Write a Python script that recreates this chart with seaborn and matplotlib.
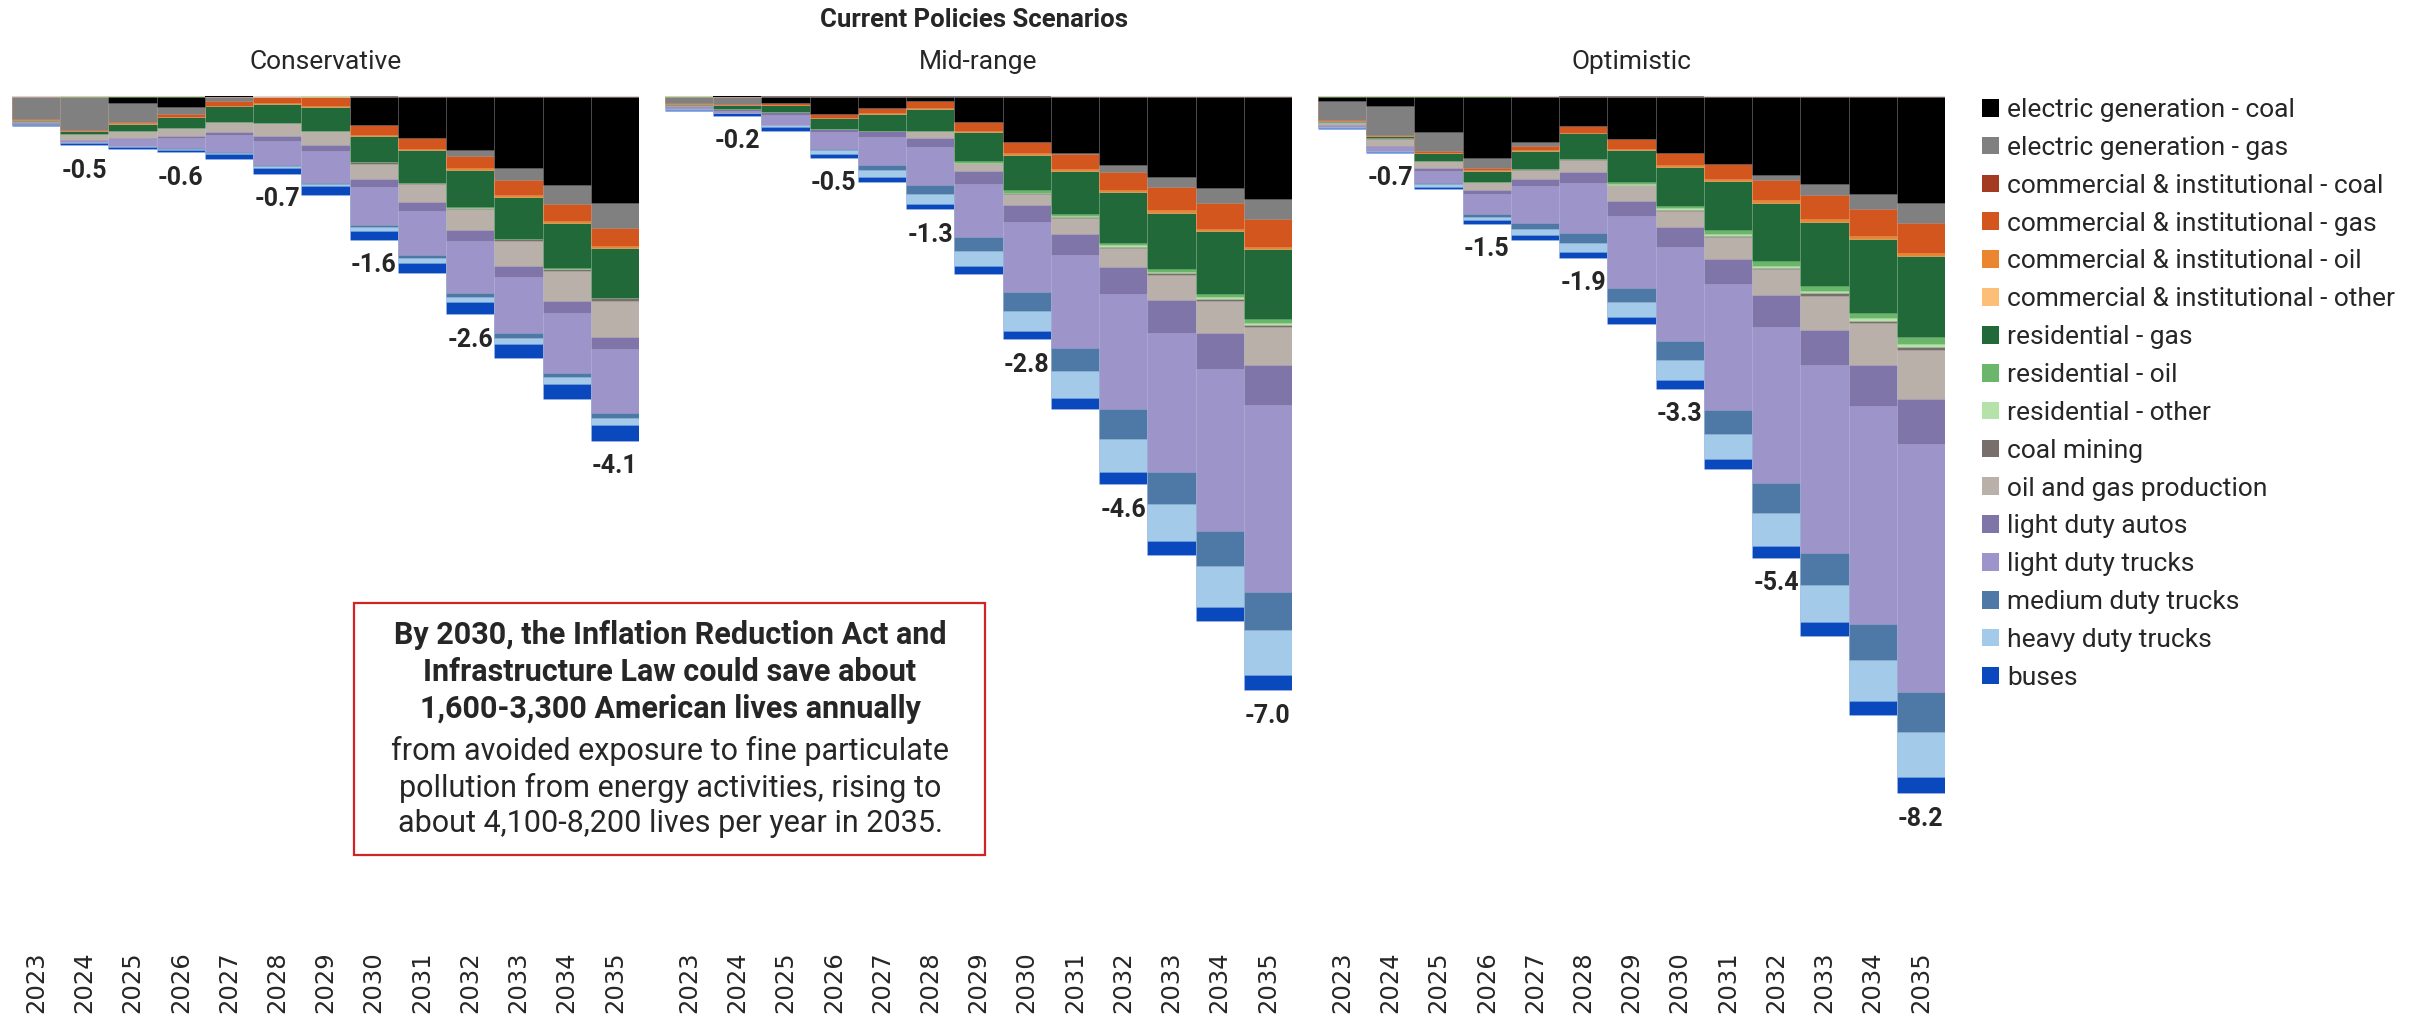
import numpy as np
import matplotlib
matplotlib.use("Agg")
import matplotlib.pyplot as plt
from matplotlib.patches import Patch, Rectangle
import seaborn as sns

sns.set_style("white")
plt.rcParams["font.family"] = ["Roboto", "DejaVu Sans"]

years = [2023, 2024, 2025, 2026, 2027, 2028, 2029, 2030, 2031, 2032, 2033, 2034, 2035]

categories = [
    "electric generation - coal", "electric generation - gas",
    "commercial & institutional - coal", "commercial & institutional - gas",
    "commercial & institutional - oil", "commercial & institutional - other",
    "residential - gas", "residential - oil", "residential - other",
    "coal mining", "oil and gas production", "light duty autos",
    "light duty trucks", "medium duty trucks", "heavy duty trucks", "buses",
]
colors = [
    "#000000", "#808080", "#a33a22", "#d4561f", "#ea8530", "#fdbe78",
    "#22693a", "#6ab66a", "#b4e2a8", "#786f6c", "#b9b0aa", "#8075a9",
    "#9d95ca", "#4e79a7", "#a3cbe9", "#0a48be",
]

# deaths avoided (thousands), negative = fewer deaths
conservative = {
    "electric generation - coal": [0, 0, -0.065, -0.11, 0.02, 0, 0, -0.33, -0.48, -0.62, -0.83, -1.03, -1.24],
    "electric generation - gas": [-0.25, -0.38, -0.22, -0.08, -0.04, 0, 0, 0.015, 0, -0.07, -0.14, -0.225, -0.30],
    "commercial & institutional - coal": [0, 0, 0, 0, 0, 0, 0, 0, 0, 0, 0, 0, 0],
    "commercial & institutional - gas": [-0.01, -0.01, -0.02, -0.035, -0.06, -0.07, -0.10, -0.11, -0.125, -0.14, -0.18, -0.20, -0.21],
    "commercial & institutional - oil": [0, 0, -0.005, -0.005, -0.005, -0.008, -0.012, -0.012, -0.02, -0.025, -0.028, -0.028, -0.032],
    "commercial & institutional - other": [0, 0, 0, 0, 0, 0, 0, 0, 0, 0, 0, 0, 0],
    "residential - gas": [-0.012, -0.04, -0.08, -0.13, -0.18, -0.22, -0.28, -0.31, -0.38, -0.44, -0.49, -0.53, -0.58],
    "residential - oil": [0, 0, 0, 0, 0, 0, 0, -0.005, -0.005, -0.005, -0.007, -0.007, -0.008],
    "residential - other": [0, 0.015, 0.015, 0.015, 0, 0, 0.012, 0, 0, 0, 0, 0, 0],
    "coal mining": [0, -0.005, 0, 0, 0, 0, 0, -0.015, -0.015, -0.02, -0.02, -0.028, -0.035],
    "oil and gas production": [-0.02, -0.065, -0.09, -0.09, -0.12, -0.16, -0.17, -0.18, -0.21, -0.25, -0.30, -0.36, -0.42],
    "light duty autos": [-0.01, -0.016, -0.012, -0.03, -0.04, -0.06, -0.075, -0.10, -0.105, -0.125, -0.13, -0.135, -0.14],
    "light duty trucks": [-0.015, -0.01, -0.075, -0.12, -0.20, -0.28, -0.37, -0.44, -0.52, -0.61, -0.66, -0.71, -0.76],
    "medium duty trucks": [-0.003, -0.005, -0.005, -0.005, -0.012, -0.016, -0.02, -0.03, -0.04, -0.05, -0.05, -0.05, -0.06],
    "heavy duty trucks": [-0.005, -0.01, -0.008, -0.012, -0.016, -0.016, -0.02, -0.04, -0.05, -0.06, -0.07, -0.08, -0.085],
    "buses": [-0.015, -0.025, -0.024, -0.032, -0.055, -0.07, -0.10, -0.11, -0.125, -0.145, -0.17, -0.18, -0.18],
}
mid_range = {
    "electric generation - coal": [0, 0.02, -0.07, -0.20, -0.12, -0.045, -0.29, -0.53, -0.65, -0.80, -0.94, -1.07, -1.20],
    "electric generation - gas": [-0.07, -0.08, 0.02, 0.02, 0.02, 0.02, 0.02, 0.02, -0.02, -0.075, -0.12, -0.18, -0.23],
    "commercial & institutional - coal": [0, 0, 0, 0, 0, 0, 0, 0, 0, 0, 0, 0, 0],
    "commercial & institutional - gas": [-0.005, -0.012, -0.02, -0.04, -0.06, -0.08, -0.10, -0.13, -0.17, -0.22, -0.27, -0.30, -0.33],
    "commercial & institutional - oil": [0, 0, 0, -0.004, -0.012, -0.015, -0.02, -0.02, -0.024, -0.024, -0.028, -0.032, -0.032],
    "commercial & institutional - other": [0, 0, 0, 0, 0, 0, 0, 0, 0, 0, 0, 0, 0],
    "residential - gas": [-0.008, -0.04, -0.08, -0.125, -0.20, -0.26, -0.34, -0.415, -0.51, -0.60, -0.67, -0.74, -0.82],
    "residential - oil": [-0.003, 0, 0, 0, 0, 0, -0.02, -0.028, -0.024, -0.024, -0.028, -0.035, -0.05],
    "residential - other": [0.015, 0, 0, 0, 0, 0, 0, 0, -0.016, -0.02, -0.02, -0.02, -0.02],
    "coal mining": [0, 0, 0, 0, 0, 0, 0, -0.012, -0.012, -0.016, -0.02, -0.024, -0.028],
    "oil and gas production": [-0.015, -0.005, 0, 0, 0, -0.075, -0.10, -0.14, -0.18, -0.22, -0.30, -0.38, -0.45],
    "light duty autos": [-0.015, -0.02, -0.04, -0.04, -0.08, -0.11, -0.15, -0.20, -0.25, -0.32, -0.38, -0.42, -0.47],
    "light duty trucks": [-0.02, -0.028, -0.11, -0.20, -0.32, -0.45, -0.63, -0.82, -1.10, -1.36, -1.64, -1.92, -2.21],
    "medium duty trucks": [-0.002, 0, -0.004, -0.016, -0.07, -0.105, -0.165, -0.22, -0.27, -0.35, -0.38, -0.41, -0.45],
    "heavy duty trucks": [-0.004, -0.004, -0.028, -0.044, -0.08, -0.12, -0.18, -0.24, -0.32, -0.39, -0.44, -0.48, -0.53],
    "buses": [-0.012, -0.028, -0.04, -0.045, -0.05, -0.06, -0.085, -0.10, -0.13, -0.15, -0.16, -0.17, -0.18],
}
optimistic = {
    "electric generation - coal": [-0.04, -0.10, -0.41, -0.72, -0.53, -0.34, -0.49, -0.65, -0.78, -0.92, -1.02, -1.14, -1.25],
    "electric generation - gas": [-0.23, -0.34, -0.22, -0.115, -0.04, 0.02, 0.02, 0.02, 0.01, -0.05, -0.135, -0.18, -0.23],
    "commercial & institutional - coal": [0, 0, 0, 0, 0, 0, 0, 0, 0, 0, 0, 0, 0],
    "commercial & institutional - gas": [-0.008, -0.01, -0.025, -0.025, -0.055, -0.08, -0.12, -0.145, -0.18, -0.24, -0.28, -0.32, -0.36],
    "commercial & institutional - oil": [0, -0.004, -0.004, -0.004, -0.004, -0.004, -0.012, -0.02, -0.028, -0.03, -0.03, -0.03, -0.032],
    "commercial & institutional - other": [0, 0, 0, 0, 0, 0, 0, 0, 0, 0, 0, 0, 0],
    "residential - gas": [-0.012, -0.03, -0.09, -0.13, -0.22, -0.30, -0.375, -0.465, -0.58, -0.69, -0.76, -0.87, -0.96],
    "residential - oil": [0, 0, 0, 0, 0, 0, -0.02, -0.028, -0.04, -0.055, -0.06, -0.065, -0.08],
    "residential - other": [0.012, 0.012, 0.012, 0.012, 0, 0, -0.012, -0.02, -0.024, -0.024, -0.028, -0.03, -0.032],
    "coal mining": [0, -0.004, -0.004, -0.004, -0.004, -0.016, -0.008, -0.016, -0.02, -0.02, -0.028, -0.032, -0.04],
    "oil and gas production": [-0.03, -0.08, -0.08, -0.09, -0.105, -0.14, -0.18, -0.185, -0.25, -0.30, -0.40, -0.49, -0.57],
    "light duty autos": [-0.015, -0.02, -0.03, -0.05, -0.09, -0.135, -0.18, -0.24, -0.30, -0.375, -0.42, -0.49, -0.54],
    "light duty trucks": [-0.015, -0.04, -0.15, -0.24, -0.43, -0.59, -0.85, -1.11, -1.49, -1.85, -2.22, -2.57, -2.93],
    "medium duty trucks": [-0.003, -0.004, -0.008, -0.03, -0.07, -0.11, -0.165, -0.22, -0.28, -0.35, -0.38, -0.42, -0.47],
    "heavy duty trucks": [-0.005, -0.008, -0.03, -0.04, -0.07, -0.11, -0.18, -0.24, -0.30, -0.39, -0.43, -0.49, -0.53],
    "buses": [-0.015, -0.015, -0.03, -0.04, -0.06, -0.07, -0.085, -0.10, -0.12, -0.14, -0.17, -0.16, -0.19],
}

# total labels shown under every other bar
label_years = [2024, 2026, 2028, 2030, 2032, 2035]
conservative_totals = [-0.5, -0.6, -0.7, -1.6, -2.6, -4.1]
mid_range_totals = [-0.2, -0.5, -1.3, -2.8, -4.6, -7.0]
optimistic_totals = [-0.7, -1.5, -1.9, -3.3, -5.4, -8.2]

panels = [
    ("Conservative", conservative, conservative_totals),
    ("Mid-range", mid_range, mid_range_totals),
    ("Optimistic", optimistic, optimistic_totals),
]

W, H = 2425, 1022
fig = plt.figure(figsize=(W / 100, H / 100), dpi=100)

ax_lefts = [12, 665, 1318]
ax_w = 627
ax_top, ax_bot = 92.4, 944.5
xs = [str(y) for y in years]

for (name, scen, totals), left in zip(panels, ax_lefts):
    ax = fig.add_axes([left / W, 1 - ax_bot / H, ax_w / W, (ax_bot - ax_top) / H])
    vals = np.array([scen[c] for c in categories])
    neg = np.cumsum(np.clip(vals, None, 0), axis=0)
    pos = np.cumsum(np.clip(vals, 0, None), axis=0)
    ax.axhline(0, color="#d6d6d6", lw=2.2, zorder=0)
    # stacked by overdrawing cumulative bars, deepest layer first
    for k in range(len(categories) - 1, -1, -1):
        sns.barplot(x=xs, y=neg[k], color=colors[k], width=1, saturation=1,
                    errorbar=None, edgecolor=(1, 1, 1, 0.18), linewidth=0.5, ax=ax)
    for k in range(len(categories) - 1, -1, -1):
        sns.barplot(x=xs, y=pos[k], color=colors[k], width=1, saturation=1,
                    errorbar=None, linewidth=0, ax=ax)
    for yr, t in zip(label_years, totals):
        i = years.index(yr)
        ax.text(i, neg[-1][i] - 0.3, f"{t:.1f}", ha="center", va="center",
                fontsize=18, fontweight="bold")
    ax.set_ylim(-10, 0.06)
    ax.set_xlim(-0.5, len(years) - 0.5)
    ax.set(xlabel=None, ylabel=None, yticks=[])
    ax.tick_params(axis="x", length=0, pad=5, labelrotation=90, labelsize=17.5)
    for lab in ax.get_xticklabels():
        lab.set_fontfamily("DejaVu Sans")
    sns.despine(ax=ax, left=True, bottom=True)
    ax.text(0.5, 1 + 30 / (ax_bot - ax_top), name, transform=ax.transAxes,
            ha="center", va="center", fontsize=19)

fig.text(974 / W, 1 - 20 / H, "Current Policies Scenarios", ha="center",
         va="center", fontsize=18.5, fontweight="bold")

handles = [Patch(facecolor=c, edgecolor="none") for c in colors]
fig.legend(handles, categories, loc="upper left", bbox_to_anchor=(1982 / W, 1 - 98 / H),
           frameon=False, fontsize=19, handlelength=0.65, handleheight=0.65,
           handletextpad=0.3, labelspacing=0.525, borderpad=0, borderaxespad=0)

# call-out box
fig.add_artist(Rectangle((354 / W, 1 - 855 / H), 631 / W, 252 / H, transform=fig.transFigure,
                         fill=False, edgecolor="#d42323", lw=1.6))
fig.text(670 / W, 1 - 672 / H,
         "By 2030, the Inflation Reduction Act and\nInfrastructure Law could save about\n"
         "1,600-3,300 American lives annually",
         ha="center", va="center", fontsize=22, fontweight="bold", linespacing=1.3)
fig.text(670 / W, 1 - 787 / H,
         "from avoided exposure to fine particulate\npollution from energy activities, rising to\n"
         "about 4,100-8,200 lives per year in 2035.",
         ha="center", va="center", fontsize=22, linespacing=1.28)

fig.savefig("out.png", dpi=100)
